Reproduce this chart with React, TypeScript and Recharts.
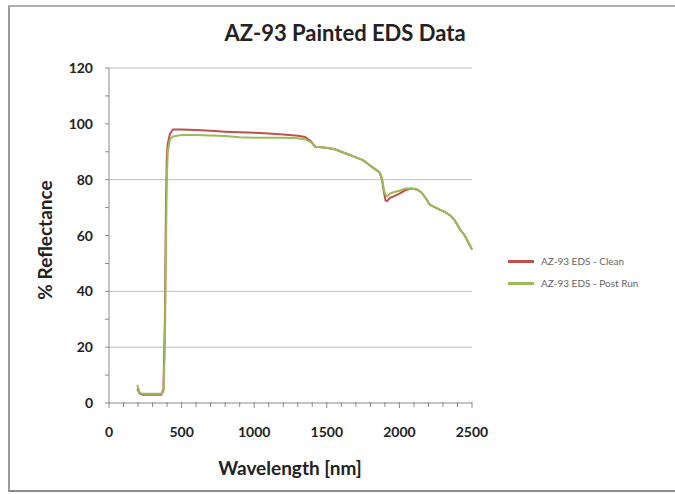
import { Legend, Line, LineChart, ReferenceLine, XAxis, YAxis } from 'recharts';

const wavelengths = [
  195, 210, 230, 300, 360, 375, 385, 392, 398, 405, 420, 440, 500, 600, 700, 800, 900, 1000, 1100, 1200,
  1300, 1350, 1390, 1420, 1480, 1550, 1600, 1650, 1700, 1750, 1800, 1840, 1865, 1880, 1895, 1905, 1915,
  1935, 1960, 2000, 2040, 2080, 2120, 2150, 2180, 2210, 2250, 2280, 2320, 2350, 2380, 2420, 2450, 2480, 2500,
];

const cleanValues = [
  5.2, 3.5, 3.0, 3.0, 3.0, 5.0, 30, 70, 88, 93, 96.5, 98, 98, 97.8, 97.5, 97.2, 97, 96.8, 96.5, 96.2,
  95.7, 95.3, 93.8, 91.8, 91.5, 91, 90, 89, 88, 87, 85, 83.5, 82.5, 80, 75, 72.5, 72.3,
  73.5, 74, 75, 76.2, 76.8, 76.5, 75.5, 73.5, 71, 70, 69.2, 68.2, 67.2, 65.5, 62, 60, 57, 55,
];

const postRunValues = [
  6.5, 3.8, 3.3, 3.3, 3.3, 4.0, 20, 55, 80, 90, 94.5, 95.5, 96, 96, 95.8, 95.6, 95.2, 95, 95, 95,
  94.8, 94.5, 93.5, 91.8, 91.5, 91, 90, 89, 88, 87, 85, 83.5, 82.5, 80.5, 76, 74.5, 74,
  75, 75.5, 76, 76.8, 76.8, 76.5, 75.5, 73.5, 71, 70, 69.2, 68.2, 67.2, 65.5, 62, 60, 57, 55,
];

const seriesNames = ['AZ-93 EDS - Clean', 'AZ-93 EDS - Post Run'];

const xTicks = [
  0, 100, 200, 300, 400, 500, 600, 700, 800, 900, 1000, 1100, 1200, 1300, 1400, 1500, 1600, 1700, 1800,
  1900, 2000, 2100, 2200, 2300, 2400, 2500,
];
const xLabels = [0, 500, 1000, 1500, 2000, 2500];
const yTicks = [0, 10, 20, 30, 40, 50, 60, 70, 80, 90, 100, 110, 120];
const yLabels = [0, 20, 40, 60, 80, 100, 120];
const gridLines = [120, 80, 40, 20];

const data = wavelengths.map((w, i) => ({ w, clean: cleanValues[i], post: postRunValues[i] }));

const FONT = 'Lato, "Open Sans", sans-serif';

function XTick(props: any) {
  const { x, y, payload } = props;
  const major = xLabels.includes(payload.value);
  return (
    <g>
      <line x1={x} x2={x} y1={y - 1} y2={y + (major ? 5 : 4)} stroke="#8a8a8a" />
      {major && (
        <text x={x} y={y + 34} textAnchor="middle" fill="#222" fontSize={14} fontWeight={700} fontFamily={FONT}>
          {payload.value}
        </text>
      )}
    </g>
  );
}

function YTick(props: any) {
  const { x, y, payload } = props;
  const major = yLabels.includes(payload.value);
  return (
    <g>
      <line x1={x - 4} x2={x} y1={y} y2={y} stroke="#8a8a8a" />
      {major && (
        <text x={x - 16} y={y + 5} textAnchor="end" fill="#222" fontSize={14} fontWeight={700} fontFamily={FONT}>
          {payload.value}
        </text>
      )}
    </g>
  );
}

function LegendBox(props: any) {
  const { payload } = props;
  return (
    <div style={{ fontFamily: FONT, fontSize: 10, color: '#666' }}>
      {(payload || []).map((item: any) => (
        <div key={item.value} style={{ display: 'flex', alignItems: 'center', height: 22 }}>
          <span style={{ display: 'inline-block', width: 26, height: 3, background: item.color, marginRight: 7 }} />
          <span>{item.value}</span>
        </div>
      ))}
    </div>
  );
}

export default function App() {
  return (
    <div style={{ position: 'absolute', left: 0, top: 0, width: 675, height: 494, background: '#fff' }}>
      <div
        style={{
          position: 'absolute',
          left: 8,
          top: 5,
          width: 668,
          height: 483,
          borderLeft: '2px solid #9a9a9a',
          borderTop: '2px solid #b0b0b0',
          borderBottom: '2px solid #8a8a8a',
        }}
      />
      <div
        style={{
          position: 'absolute',
          left: 0,
          top: 19,
          width: 690,
          textAlign: 'center',
          fontFamily: FONT,
          fontWeight: 700,
          fontSize: 22,
          color: '#222',
        }}
      >
        AZ-93 Painted EDS Data
      </div>
      <div
        style={{
          position: 'absolute',
          left: 44,
          top: 240,
          transform: 'translate(-50%, -50%) rotate(-90deg)',
          whiteSpace: 'nowrap',
          fontFamily: FONT,
          fontWeight: 700,
          fontSize: 19,
          color: '#222',
        }}
      >
        % Reflectance
      </div>
      <div
        style={{
          position: 'absolute',
          left: 290,
          top: 467,
          transform: 'translate(-50%, -50%)',
          whiteSpace: 'nowrap',
          fontFamily: FONT,
          fontWeight: 700,
          fontSize: 19,
          color: '#222',
        }}
      >
        Wavelength [nm]
      </div>
      <LineChart width={675} height={494} data={data} margin={{ top: 68, right: 203, bottom: 61, left: 49 }}>
        {gridLines.map((g) => (
          <ReferenceLine key={g} y={g} stroke="#b9bdd3" strokeWidth={1} />
        ))}
        <XAxis
          dataKey="w"
          type="number"
          domain={[0, 2500]}
          ticks={xTicks}
          interval={0}
          height={30}
          tickSize={0}
          tickMargin={0}
          tickLine={false}
          axisLine={{ stroke: '#8a8a8a' }}
          tick={<XTick />}
        />
        <YAxis
          type="number"
          domain={[0, 120]}
          ticks={yTicks}
          interval={0}
          width={60}
          tickSize={0}
          tickMargin={0}
          tickLine={false}
          axisLine={{ stroke: '#8a8a8a' }}
          tick={<YTick />}
        />
        <Legend
          layout="vertical"
          align="center"
          verticalAlign="middle"
          wrapperStyle={{ left: 508, top: 250, width: 167 }}
          content={<LegendBox />}
        />
        <Line
          type="linear"
          dataKey="clean"
          name={seriesNames[0]}
          stroke="#c0504d"
          strokeWidth={2}
          dot={false}
          isAnimationActive={false}
        />
        <Line
          type="linear"
          dataKey="post"
          name={seriesNames[1]}
          stroke="#9bbb59"
          strokeWidth={2}
          dot={false}
          isAnimationActive={false}
        />
      </LineChart>
    </div>
  );
}
